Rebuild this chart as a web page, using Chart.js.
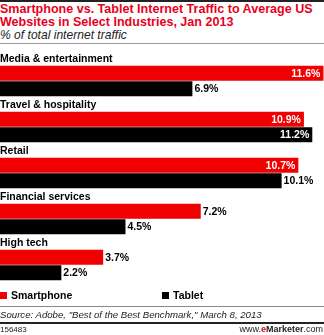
<!DOCTYPE html>
<html><head><meta charset="utf-8">
<script src="https://cdn.jsdelivr.net/npm/chart.js@4"></script>
<style>
html,body{margin:0;padding:0;background:#fff;}
#wrap{position:relative;width:324px;height:335px;overflow:hidden;font-family:"Liberation Sans",Arial,sans-serif;}
.abs{position:absolute;white-space:nowrap;}
.fit{display:inline-block;}
#topline{position:absolute;left:0;top:0;width:324px;height:2px;background:#222;}
#title{left:0;top:3px;color:#e8001c;font-weight:bold;font-size:13px;line-height:12.5px;}
#subtitle{left:0;top:28px;font-style:italic;font-size:11.5px;color:#222;}
#sep1{position:absolute;left:0;top:43px;width:324px;height:1px;background:#999;}
#cwrap{position:absolute;left:0;top:46px;width:324px;height:250px;}
#legend{left:0;top:289px;width:324px;height:12px;font-weight:bold;font-size:10.5px;}
.li{position:absolute;top:0;}
.sw{display:inline-block;width:7px;height:7px;margin-right:4px;vertical-align:0px;}
#sep2{position:absolute;left:0;top:306px;width:324px;height:1px;background:#888;}
#source{left:0;top:309px;font-style:italic;font-size:10.5px;color:#222;}
#sep3{position:absolute;left:0;top:322px;width:324px;height:2px;background:#222;}
#fid{left:0;top:325px;font-size:8px;color:#222;}
#web{right:1px;top:324px;font-size:9px;color:#222;}
</style></head>
<body>
<div id="wrap">
  <div id="topline"></div>
  <div id="title" class="abs"><span class="fit" data-w="313">Smartphone vs. Tablet Internet Traffic to Average US</span><br><span class="fit">Websites in Select Industries, Jan 2013</span></div>
  <div id="subtitle" class="abs"><span class="fit" data-w="127">% of total internet traffic</span></div>
  <div id="sep1"></div>
  <div id="cwrap"><canvas id="c"></canvas></div>
  <div id="legend" class="abs"></div>
  <div id="sep2"></div>
  <div id="source" class="abs"><span class="fit" data-w="262">Source: Adobe, "Best of the Best Benchmark," March 8, 2013</span></div>
  <div id="sep3"></div>
  <div id="fid" class="abs">156483</div>
  <div id="web" class="abs">www.<b style="color:#e8001c">e</b><b>Marketer</b>.com</div>
</div>
<script>
const categories = ["Media & entertainment","Travel & hospitality","Retail","Financial services","High tech"];
const smartphone = [11.6, 10.9, 10.7, 7.2, 3.7];
const tablet = [6.9, 11.2, 10.1, 4.5, 2.2];
const seriesNames = ["Smartphone","Tablet"];
const seriesColors = ["#f00000","#000000"];

// fit text widths
document.querySelectorAll('.fit[data-w]').forEach(el=>{
  const target = +el.dataset.w;
  const parent = el.parentElement;
  const fs = parseFloat(getComputedStyle(parent).fontSize);
  const w = el.getBoundingClientRect().width;
  parent.style.fontSize = (fs*target/w).toFixed(2)+'px';
});

// legend
const lg = document.getElementById('legend');
const lpos = [0,162];
seriesNames.forEach((n,i)=>{
  const d = document.createElement('span');
  d.className='li'; d.style.left=lpos[i]+'px';
  d.innerHTML = '<span class="sw" style="background:'+seriesColors[i]+'"></span>'+n;
  lg.appendChild(d);
});

const labelPlugin = {
  id:'labels',
  afterDatasetsDraw(chart){
    const ctx = chart.ctx, area = chart.chartArea;
    ctx.save();
    ctx.font = 'bold 10.5px "Liberation Sans", Arial, sans-serif';
    ctx.textBaseline = 'middle';
    chart.data.datasets.forEach((ds,di)=>{
      const meta = chart.getDatasetMeta(di);
      meta.data.forEach((bar,i)=>{
        const txt = ds.data[i].toFixed(1)+'%';
        const w = ctx.measureText(txt).width;
        if (bar.x + 2 + w > area.right - 1) {
          ctx.fillStyle = '#fff'; ctx.textAlign='right';
          ctx.fillText(txt, bar.x - 3, bar.y + 0.5);
        } else {
          ctx.fillStyle = '#000'; ctx.textAlign='left';
          ctx.fillText(txt, bar.x + 2, bar.y + 0.5);
        }
      });
    });
    // category labels
    const m0 = chart.getDatasetMeta(0);
    ctx.fillStyle='#000'; ctx.textAlign='left'; ctx.textBaseline='alphabetic';
    ctx.font = 'bold 10.5px "Liberation Sans", Arial, sans-serif';
    m0.data.forEach((bar,i)=>{
      const top = bar.y - bar.height/2;
      ctx.fillText(chart.data.labels[i], 0, top - 3.5);
    });
    ctx.restore();
  }
};

new Chart(document.getElementById('c'), {
  type:'bar',
  data:{
    labels: categories,
    datasets:[
      {label:seriesNames[0], data:smartphone, backgroundColor:seriesColors[0]},
      {label:seriesNames[1], data:tablet, backgroundColor:seriesColors[1]}
    ]
  },
  options:{
    indexAxis:'y',
    responsive:true, maintainAspectRatio:false, animation:false,
    categoryPercentage: 31/46, barPercentage: 0.968,
    layout:{padding:{top:12,bottom:8,left:0,right:0}},
    scales:{
      x:{display:false,min:0,max:11.62},
      y:{display:false}
    },
    plugins:{legend:{display:false},tooltip:{enabled:false}}
  },
  plugins:[labelPlugin]
});
</script>
</body></html>
